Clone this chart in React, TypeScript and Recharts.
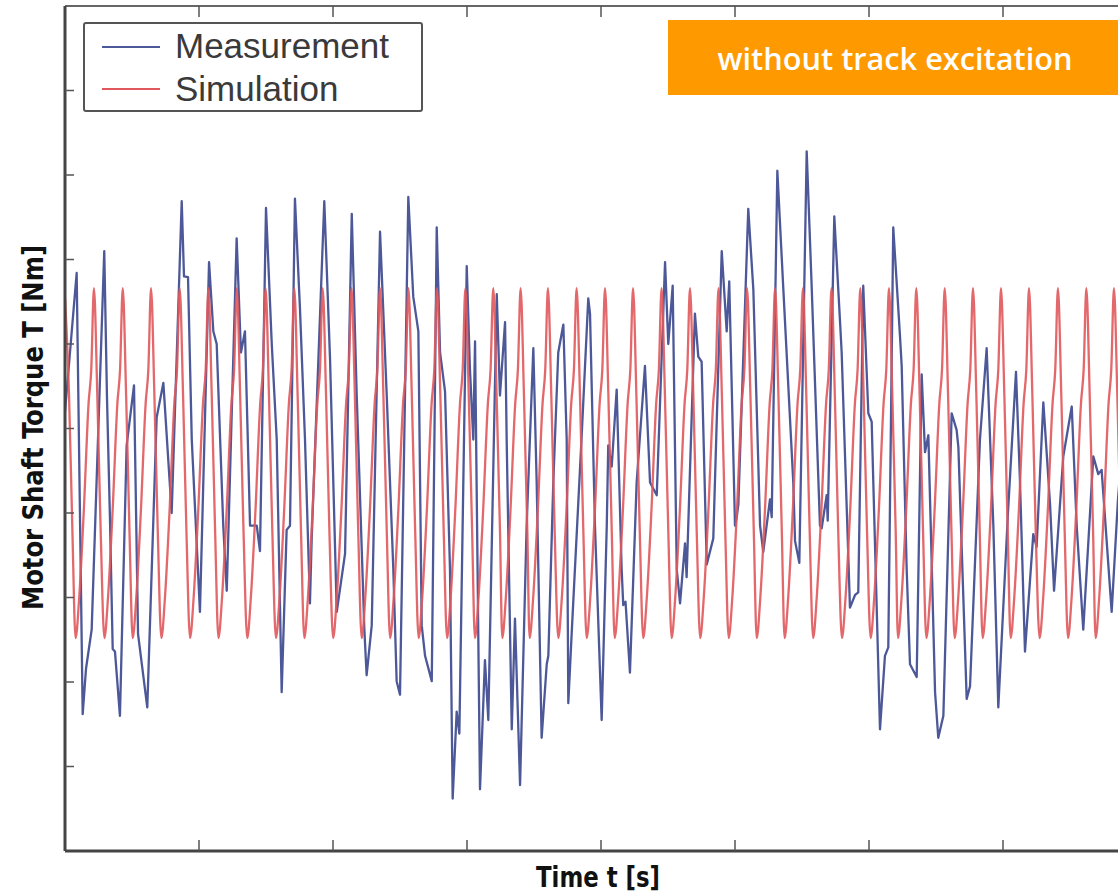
import { LineChart, Line, XAxis, YAxis, Legend } from 'recharts';

// axis ticks (unlabelled in the figure)
const timeTicks = [1, 2, 3, 4, 5, 6, 7];
const torqueTicks = [-40, -30, -20, -10, 0, 10, 20, 30, 40];

const seriesNames = ['Measurement', 'Simulation'];
const seriesColors = ['#4d5898', '#e0585b'];
const badgeText = 'without track excitation';
const xTitle = 'Time t [s]';
const yTitle = 'Motor Shaft Torque T [Nm]';

// measured torque [time s, torque Nm]
const measurement: [number, number][] = [
  [0.000, 2], [0.087, 18.4], [0.132, -33.8], [0.157, -28.4], [0.199, -23.8], [0.293, 21.0], [0.313, 3.9],
  [0.336, -11.0], [0.356, -26.1], [0.373, -26.4], [0.410, -34.0], [0.460, -2.0], [0.515, 5.1], [0.545, -24.3],
  [0.614, -33.0], [0.684, 1.3], [0.734, 5.4], [0.796, -10.0], [0.871, 26.9], [0.888, 18.0], [0.918, 17.9],
  [0.946, -1.3], [1.007, -21.7], [1.075, 19.7], [1.107, 11.5], [1.132, 10.0], [1.181, -11.5], [1.207, -19.2],
  [1.281, 22.5], [1.313, 9.0], [1.343, 11.5], [1.381, -11.5], [1.431, -11.5], [1.455, -14.5], [1.500, 26.1],
  [1.543, 10.0], [1.580, -1.3], [1.617, -31.2], [1.654, -12.0], [1.679, -11.5], [1.716, 27.2], [1.754, 14.0],
  [1.791, -1.3], [1.828, -20.7], [1.841, -13.0], [1.935, 26.9], [1.978, 8.2], [2.028, -21.7], [2.090, -14.8],
  [2.140, 25.4], [2.177, 3.9], [2.234, -23.8], [2.251, -29.2], [2.289, -23.3], [2.351, 23.3], [2.401, 3.9],
  [2.450, -16.6], [2.475, -29.9], [2.500, -31.5], [2.562, 27.4], [2.599, 15.6], [2.637, 11.5], [2.662, -23.3],
  [2.687, -26.9], [2.737, -29.9], [2.774, 23.8], [2.799, 9.0], [2.836, 4.4], [2.873, -16.6], [2.893, -43.8],
  [2.923, -33.5], [2.943, -36.1], [2.998, 19.2], [3.022, 7.0], [3.047, -1.3], [3.060, 10.3], [3.097, -42.7],
  [3.134, -27.4], [3.159, -34.5], [3.222, 15.9], [3.246, 3.9], [3.284, 12.6], [3.296, -1.3], [3.334, -35.6],
  [3.358, -22.5], [3.396, -42.2], [3.445, -11.5], [3.495, 9.5], [3.520, -6.4], [3.557, -36.6], [3.595, -27.9],
  [3.607, -26.9], [3.644, -6.4], [3.681, 9.0], [3.719, 12.3], [3.744, -1.3], [3.756, -32.5], [3.781, -24.3],
  [3.856, -0.8], [3.905, 15.4], [3.918, 13.6], [3.955, -11.5], [4.005, -34.5], [4.043, -11.5], [4.054, -2.0],
  [4.080, -4.5], [4.117, 4.6], [4.154, -16.6], [4.166, -20.9], [4.183, -20.5], [4.216, -28.9], [4.266, -6.4],
  [4.328, 7.4], [4.366, -6.4], [4.416, -7.9], [4.478, 19.7], [4.502, 10.0], [4.535, 16.9], [4.565, -16.6],
  [4.590, -20.7], [4.627, -13.6], [4.639, -17.6], [4.701, 13.6], [4.726, 8.5], [4.751, 7.9], [4.789, -16.1],
  [4.838, -13.0], [4.901, 21.0], [4.938, 11.5], [4.957, 17.4], [5.000, -11.5], [5.013, -10.5], [5.025, -9.0],
  [5.099, 26.0], [5.137, 16.4], [5.187, -11.5], [5.211, -14.6], [5.261, -8.4], [5.274, -10.5], [5.316, 30.5],
  [5.360, 16.7], [5.435, -6.4], [5.448, -13.3], [5.480, -15.9], [5.535, 32.8], [5.572, 16.9], [5.634, -11.5],
  [5.647, -11.8], [5.684, -7.9], [5.692, -10.9], [5.741, 25.1], [5.784, 12.6], [5.796, 9.0], [5.858, -21.2],
  [5.896, -19.7], [5.920, -19.4], [5.957, 16.9], [5.995, 1.8], [6.020, 0.8], [6.082, -35.6], [6.119, -26.9],
  [6.144, -25.9], [6.181, 23.8], [6.231, 11.0], [6.244, 7.4], [6.281, -16.6], [6.306, -27.9], [6.356, -29.4],
  [6.393, 6.4], [6.418, -2.8], [6.443, -0.8], [6.493, -31.2], [6.517, -36.6], [6.555, -34.0], [6.617, 1.8],
  [6.654, -0.2], [6.667, -2.2], [6.729, -32.0], [6.754, -30.5], [6.828, -1.3], [6.878, 9.5], [6.928, -11.5],
  [6.965, -33.0], [7.037, -10.0], [7.097, 6.7], [7.127, -6.4], [7.164, -26.4], [7.226, -12.5], [7.251, -14.0],
  [7.301, 3.1], [7.351, -8.9], [7.381, -19.2], [7.450, -3.3], [7.513, 2.6], [7.550, -11.5], [7.599, -23.8],
  [7.674, -3.3], [7.711, -5.4], [7.736, -4.9], [7.811, -21.7], [7.858, -8.4], [7.910, 2.0],
];

// simulated torque [time s, torque Nm], one row per oscillation
const simulation: [number, number][] = [
  [0.000, 15.5], [0.030, 4], [0.055, -12],
  [0.079, -24.8], [0.106, -20], [0.141, -9.5], [0.176, 3], [0.196, 7], [0.216, 16.6], [0.241, 4], [0.266, -12],
  [0.294, -24.8], [0.321, -20], [0.356, -9.5], [0.391, 3], [0.411, 7], [0.431, 16.6], [0.456, 4], [0.481, -12],
  [0.505, -24.8], [0.532, -20], [0.567, -9.5], [0.602, 3], [0.622, 7], [0.642, 16.6], [0.667, 4], [0.692, -12],
  [0.719, -24.8], [0.746, -20], [0.781, -9.5], [0.816, 3], [0.836, 7], [0.856, 16.6], [0.881, 4], [0.906, -12],
  [0.933, -24.8], [0.960, -20], [0.995, -9.5], [1.030, 3], [1.050, 7], [1.070, 16.6], [1.095, 4], [1.120, -12],
  [1.145, -24.8], [1.172, -20], [1.207, -9.5], [1.242, 3], [1.262, 7], [1.282, 16.6], [1.307, 4], [1.332, -12],
  [1.360, -24.8], [1.387, -20], [1.422, -9.5], [1.457, 3], [1.477, 7], [1.497, 16.6], [1.522, 4], [1.547, -12],
  [1.574, -24.8], [1.601, -20], [1.636, -9.5], [1.671, 3], [1.691, 7], [1.711, 16.6], [1.736, 4], [1.761, -12],
  [1.786, -24.8], [1.813, -20], [1.848, -9.5], [1.883, 3], [1.903, 7], [1.923, 16.6], [1.948, 4], [1.973, -12],
  [2.001, -24.8], [2.028, -20], [2.063, -9.5], [2.098, 3], [2.118, 7], [2.138, 16.6], [2.163, 4], [2.188, -12],
  [2.214, -24.8], [2.241, -20], [2.276, -9.5], [2.311, 3], [2.331, 7], [2.351, 16.6], [2.376, 4], [2.401, -12],
  [2.426, -24.8], [2.453, -20], [2.488, -9.5], [2.523, 3], [2.543, 7], [2.563, 16.6], [2.588, 4], [2.613, -12],
  [2.639, -24.8], [2.666, -20], [2.701, -9.5], [2.736, 3], [2.756, 7], [2.776, 16.6], [2.801, 4], [2.826, -12],
  [2.851, -24.8], [2.878, -20], [2.913, -9.5], [2.948, 3], [2.968, 7], [2.988, 16.6], [3.013, 4], [3.038, -12],
  [3.059, -24.8], [3.086, -20], [3.121, -9.5], [3.156, 3], [3.176, 7], [3.196, 16.6], [3.221, 4], [3.246, -12],
  [3.263, -24.8], [3.290, -20], [3.325, -9.5], [3.360, 3], [3.380, 7], [3.400, 16.6], [3.425, 4], [3.450, -12],
  [3.467, -24.8], [3.494, -20], [3.529, -9.5], [3.564, 3], [3.584, 7], [3.604, 16.6], [3.629, 4], [3.654, -12],
  [3.681, -24.8], [3.708, -20], [3.743, -9.5], [3.778, 3], [3.798, 7], [3.818, 16.6], [3.843, 4], [3.868, -12],
  [3.893, -24.8], [3.920, -20], [3.955, -9.5], [3.990, 3], [4.010, 7], [4.030, 16.6], [4.055, 4], [4.080, -12],
  [4.102, -24.8], [4.129, -20], [4.164, -9.5], [4.199, 3], [4.219, 7], [4.239, 16.6], [4.264, 4], [4.289, -12],
  [4.315, -24.8], [4.342, -20], [4.377, -9.5], [4.412, 3], [4.432, 7], [4.452, 16.6], [4.477, 4], [4.502, -12],
  [4.527, -24.8], [4.554, -20], [4.589, -9.5], [4.624, 3], [4.644, 7], [4.664, 16.6], [4.689, 4], [4.714, -12],
  [4.740, -24.8], [4.767, -20], [4.802, -9.5], [4.837, 3], [4.857, 7], [4.877, 16.6], [4.902, 4], [4.927, -12],
  [4.953, -24.8], [4.980, -20], [5.015, -9.5], [5.050, 3], [5.070, 7], [5.090, 16.6], [5.115, 4], [5.140, -12],
  [5.162, -24.8], [5.189, -20], [5.224, -9.5], [5.259, 3], [5.279, 7], [5.299, 16.6], [5.324, 4], [5.349, -12],
  [5.370, -24.8], [5.397, -20], [5.432, -9.5], [5.467, 3], [5.487, 7], [5.507, 16.6], [5.532, 4], [5.557, -12],
  [5.583, -24.8], [5.610, -20], [5.645, -9.5], [5.680, 3], [5.700, 7], [5.720, 16.6], [5.745, 4], [5.770, -12],
  [5.798, -24.8], [5.825, -20], [5.860, -9.5], [5.895, 3], [5.915, 7], [5.935, 16.6], [5.960, 4], [5.985, -12],
  [6.012, -24.8], [6.039, -20], [6.074, -9.5], [6.109, 3], [6.129, 7], [6.149, 16.6], [6.174, 4], [6.199, -12],
  [6.216, -24.8], [6.243, -20], [6.278, -9.5], [6.313, 3], [6.333, 7], [6.353, 16.6], [6.378, 4], [6.403, -12],
  [6.428, -24.8], [6.455, -20], [6.490, -9.5], [6.525, 3], [6.545, 7], [6.565, 16.6], [6.590, 4], [6.615, -12],
  [6.639, -24.8], [6.666, -20], [6.701, -9.5], [6.736, 3], [6.756, 7], [6.776, 16.6], [6.801, 4], [6.826, -12],
  [6.848, -24.8], [6.875, -20], [6.910, -9.5], [6.945, 3], [6.965, 7], [6.985, 16.6], [7.010, 4], [7.035, -12],
  [7.057, -24.8], [7.084, -20], [7.119, -9.5], [7.154, 3], [7.174, 7], [7.194, 16.6], [7.219, 4], [7.244, -12],
  [7.273, -24.8], [7.300, -20], [7.335, -9.5], [7.370, 3], [7.390, 7], [7.410, 16.6], [7.435, 4], [7.460, -12],
  [7.485, -24.8], [7.512, -20], [7.547, -9.5], [7.582, 3], [7.602, 7], [7.622, 16.6], [7.647, 4], [7.672, -12],
  [7.691, -24.8], [7.718, -20], [7.753, -9.5], [7.788, 3], [7.808, 7], [7.828, 16.6], [7.853, 4], [7.878, -12],
  [7.903, -24.8], [7.930, -20], [7.965, -9.5], [8.000, 3],
];

const measData = measurement.map(([t, v]) => ({ t, v }));
const simData = simulation.map(([t, v]) => ({ t, v }));

const titleFont = '"Liberation Sans Narrow", "DejaVu Sans Condensed", "Open Sans", sans-serif';
const axisStroke = { stroke: '#444', strokeWidth: 3 };
const tickStroke = { stroke: '#555', strokeWidth: 1.5 };
// tick marks only, no tick labels
const noLabel = () => <g />;

function XTitle(props: any) {
  const vb = props.viewBox || { x: 65, width: 1072 };
  return (
    <text x={vb.x + vb.width / 2 - 3} y={887} textAnchor="middle" fontFamily={titleFont} fontWeight={700}
      fontSize={29} fill="#111" textLength={124} lengthAdjust="spacingAndGlyphs">
      {xTitle}
    </text>
  );
}

function YTitle(props: any) {
  const vb = props.viewBox || { x: 64, y: 6, height: 845 };
  const cx = vb.x - 21;
  const cy = vb.y + vb.height / 2 - 1;
  return (
    <text x={cx} y={cy} transform={`rotate(-90, ${cx}, ${cy})`} textAnchor="middle" fontFamily={titleFont}
      fontWeight={700} fontSize={29} fill="#111" textLength={365} lengthAdjust="spacingAndGlyphs">
      {yTitle}
    </text>
  );
}

function LegendBox() {
  return (
    <div style={{
      width: 336, height: 86, border: '2px solid #555', borderRadius: 3, background: '#fff',
      position: 'relative', fontFamily: '"Liberation Sans", Arial, sans-serif', fontSize: 35, color: '#3a3a3a',
    }}>
      {seriesNames.map((name, i) => (
        <div key={name}>
          <div style={{
            position: 'absolute', left: 17, top: 22 + i * 42, width: 58, height: 0,
            borderTop: `2px solid ${seriesColors[i]}`,
          }} />
          <div style={{ position: 'absolute', left: 90, top: 3.5 + i * 43, lineHeight: 1, whiteSpace: 'nowrap' }}>
            {name}
          </div>
        </div>
      ))}
    </div>
  );
}

export default function App() {
  return (
    <div style={{ position: 'absolute', left: 0, top: 0, width: 1118, height: 893, overflow: 'hidden', background: '#fff' }}>
      <LineChart width={1160} height={893} margin={{ top: 5, right: 23, bottom: 41, left: 64 }}>
        <XAxis type="number" dataKey="t" domain={[0, 8]} ticks={timeTicks} interval={0} tick={noLabel}
          tickSize={-11} height={1} axisLine={axisStroke} tickLine={tickStroke} allowDataOverflow
          label={(p: any) => <XTitle {...p} />} />
        <XAxis xAxisId="top" orientation="top" type="number" dataKey="t" domain={[0, 8]} ticks={timeTicks}
          interval={0} tick={noLabel} tickSize={-11} height={1} axisLine={{ stroke: '#666', strokeWidth: 2 }}
          tickLine={tickStroke} allowDataOverflow />
        <YAxis type="number" domain={[-50, 50]} ticks={torqueTicks} interval={0} tick={noLabel} tickSize={-9}
          width={1} axisLine={axisStroke} tickLine={tickStroke} allowDataOverflow
          label={(p: any) => <YTitle {...p} />} />
        <Legend layout="vertical" align="center" verticalAlign="middle" content={() => <LegendBox />}
          wrapperStyle={{ left: 83, top: 22, width: 340, height: 90 }} />
        <Line data={measData} dataKey="v" name={seriesNames[0]} type="linear" stroke={seriesColors[0]}
          strokeWidth={2.3} strokeLinejoin="round" dot={false} isAnimationActive={false} />
        <Line data={simData} dataKey="v" name={seriesNames[1]} type="monotone" stroke={seriesColors[1]}
          strokeWidth={2.3} strokeOpacity={0.9} dot={false} isAnimationActive={false} />
      </LineChart>
      <div style={{ position: 'absolute', left: 668, top: 20, width: 450, height: 75, background: '#ff9900' }}>
        <svg width={450} height={75} style={{ display: 'block' }}>
          <text x={227} y={50} textAnchor="middle" fill="#fff" fontFamily='"Open Sans", sans-serif'
            fontWeight={600} fontSize={30} textLength={355} lengthAdjust="spacingAndGlyphs">
            {badgeText}
          </text>
        </svg>
      </div>
    </div>
  );
}
